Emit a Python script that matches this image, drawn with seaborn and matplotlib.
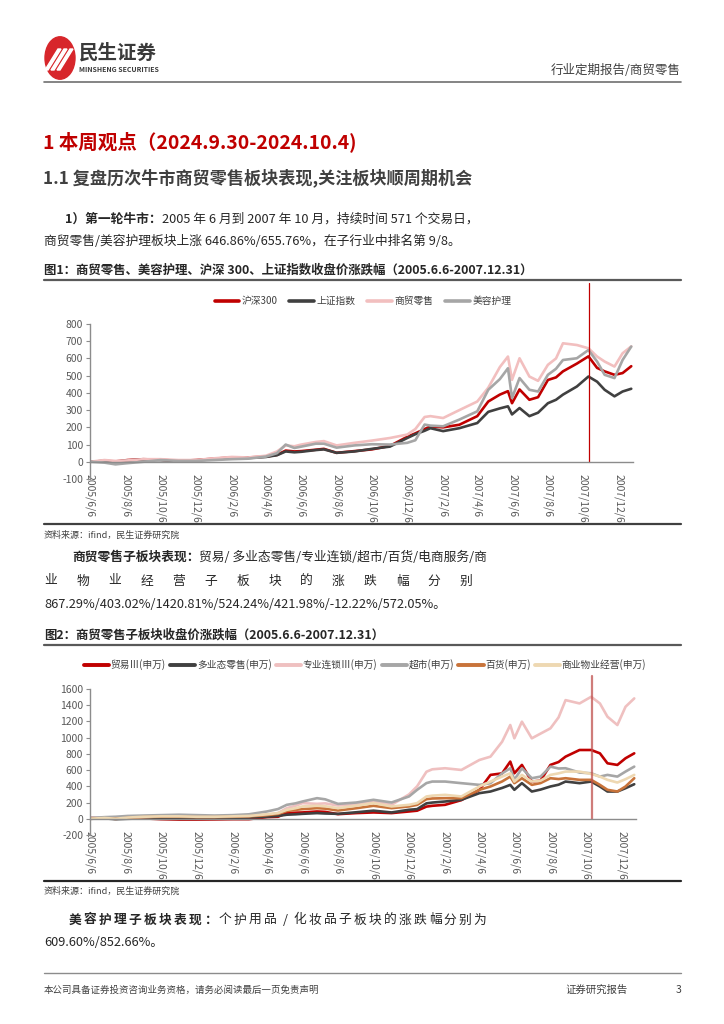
import numpy as np
import pandas as pd
import matplotlib
matplotlib.use('Agg')
import matplotlib.pyplot as plt
from matplotlib.lines import Line2D
from matplotlib.patches import Circle, Polygon
import seaborn as sns

# ---------------- data ----------------
dates = ['2005-06-06', '2005-07-01', '2005-07-20', '2005-08-10', '2005-09-06', '2005-10-06',
         '2005-11-06', '2005-12-06', '2006-01-06', '2006-02-06', '2006-03-06', '2006-04-06',
         '2006-04-25', '2006-05-10', '2006-05-25', '2006-06-06', '2006-07-01', '2006-07-15',
         '2006-08-06', '2006-09-06', '2006-10-06', '2006-11-06', '2006-12-06', '2006-12-20',
         '2007-01-05', '2007-01-15', '2007-02-06', '2007-03-06', '2007-04-06', '2007-04-25',
         '2007-05-15', '2007-05-29', '2007-06-05', '2007-06-18', '2007-07-05', '2007-07-20',
         '2007-08-06', '2007-08-20', '2007-09-01', '2007-09-25', '2007-10-15', '2007-10-30',
         '2007-11-12', '2007-11-29', '2007-12-13', '2007-12-28']

# Figure 1
hs300 = [0, 5, 2, 10, 15, 12, 5, 10, 18, 25, 25, 30, 40, 65, 60, 62, 70, 75, 52, 62, 72, 92,
         145, 165, 190, 205, 200, 215, 265, 350, 390, 410, 340, 420, 360, 375, 475, 490, 525,
         570, 612, 545, 525, 505, 515, 555]
sse = [0, 5, 0, 8, 12, 10, 5, 8, 15, 20, 22, 28, 38, 60, 55, 58, 68, 72, 52, 60, 75, 88, 138,
       160, 180, 195, 178, 195, 225, 290, 310, 322, 275, 312, 265, 285, 340, 360, 390, 437,
       495, 465, 418, 380, 408, 424]
retail = [0, 10, 5, 8, 15, 15, 10, 10, 20, 28, 25, 35, 60, 95, 90, 100, 115, 120, 95, 110, 123,
          138, 158, 190, 260, 265, 254, 300, 350, 430, 550, 611, 476, 601, 495, 470, 563, 600,
          688, 678, 659, 611, 582, 553, 630, 670]
beauty = [0, -5, -15, -8, 0, 10, 5, 5, 10, 15, 18, 30, 50, 100, 80, 88, 105, 105, 82, 95, 102,
          100, 110, 125, 216, 210, 206, 245, 293, 418, 480, 543, 370, 486, 418, 408, 505, 540,
          591, 601, 649, 582, 505, 486, 591, 669]
series1 = ['沪深300', '上证指数', '商贸零售', '美容护理']
colors1 = ['#C00000', '#404040', '#F2BFBF', '#A6A6A6']

# Figure 2
trade = [10, 5, 0, 5, 5, -5, -10, -10, -8, -5, -5, 20, 25, 70, 75, 78, 90, 85, 57, 70, 78, 70,
         90, 100, 150, 160, 172, 230, 357, 541, 560, 705, 561, 664, 459, 470, 664, 700, 766,
         848, 848, 807, 684, 664, 746, 807]
multi = [0, 5, -5, 0, 5, 10, 10, 5, 5, 10, 15, 25, 35, 50, 55, 61, 70, 65, 61, 80, 100, 78, 111,
         119, 190, 200, 213, 234, 316, 336, 380, 418, 357, 439, 336, 360, 398, 420, 459, 439,
         459, 398, 336, 336, 377, 426]
chain = [0, 10, 0, 10, 20, 30, 30, 25, 25, 30, 35, 50, 70, 131, 160, 193, 184, 190, 164, 180,
         213, 172, 300, 400, 580, 610, 623, 602, 725, 766, 950, 1156, 992, 1197, 992, 1050,
         1115, 1250, 1463, 1422, 1504, 1422, 1258, 1156, 1381, 1484]
market = [10, 20, 25, 35, 40, 45, 50, 45, 40, 45, 55, 90, 120, 172, 190, 213, 254, 240, 184,
          200, 234, 201, 275, 357, 440, 459, 459, 439, 418, 439, 560, 623, 480, 623, 500, 520,
          643, 620, 623, 570, 561, 520, 541, 520, 582, 643]
dept = [0, 5, 0, 10, 20, 25, 25, 20, 20, 25, 30, 45, 60, 95, 110, 119, 131, 125, 102, 130, 160,
        131, 152, 172, 242, 250, 254, 254, 357, 398, 460, 520, 439, 500, 418, 440, 500, 490,
        500, 480, 480, 418, 357, 336, 398, 500]
prop = [0, 10, 0, 15, 25, 30, 30, 25, 25, 30, 35, 55, 70, 110, 130, 152, 160, 155, 131, 160,
        193, 152, 172, 193, 275, 285, 295, 275, 398, 459, 520, 561, 459, 541, 459, 470, 541,
        560, 582, 582, 553, 520, 480, 447, 488, 541]
series2 = ['贸易Ⅲ(申万)', '多业态零售(申万)', '专业连锁Ⅲ(申万)', '超市(申万)', '百货(申万)',
           '商业物业经营(申万)']
colors2 = ['#C00000', '#404040', '#EFC0C0', '#A6A6A6', '#C8733A', '#EED8B2']

xtick_labels = ['2005/6/6', '2005/8/6', '2005/10/6', '2005/12/6', '2006/2/6', '2006/4/6',
                '2006/6/6', '2006/8/6', '2006/10/6', '2006/12/6', '2007/2/6', '2007/4/6',
                '2007/6/6', '2007/8/6', '2007/10/6', '2007/12/6']
yticks1 = [-100, 0, 100, 200, 300, 400, 500, 600, 700, 800]
yticks2 = [-200, 0, 200, 400, 600, 800, 1000, 1200, 1400, 1600]
peak_date = '2007-10-16'
x_start, x_end = '2005-06-06', '2007-12-31'

# ---------------- setup ----------------
sns.set_theme(style='white')
FAM = ['Noto Sans CJK SC', 'DejaVu Sans']
plt.rcParams['font.family'] = FAM
plt.rcParams['axes.unicode_minus'] = False

W, H = 724, 1024
fig = plt.figure(figsize=(W / 100, H / 100), dpi=100)


def fx(x):
    return x / W


def fy(y):
    return 1 - y / H


def rect(l, t, r, b):
    return [fx(l), fy(b), (r - l) / W, (b - t) / H]


def hline(y, x0, x1, lw=1.0, color='#595959'):
    fig.add_artist(Line2D([fx(x0), fx(x1)], [fy(y), fy(y)], transform=fig.transFigure,
                          lw=lw, color=color))


def txt(x, y, s, size=9, weight='normal', color='#262626', ha='left', **kw):
    return fig.text(fx(x), fy(y), s, fontsize=size, fontweight=weight, color=color,
                    ha=ha, va='center', family=FAM, **kw)


renderer = fig.canvas.get_renderer()


def mixed(x, y, bold, regular, size=9.2, color='#262626'):
    t = txt(x, y, bold, size=size, weight='bold', color=color)
    bb = t.get_window_extent(renderer=renderer)
    txt(bb.x1, y, regular, size=size, color=color)


def spaced(x0, x1, y, s, size=9.2, weight='normal', color='#262626', bold_n=0):
    n = len(s)
    for i, c in enumerate(s):
        xc = x0 + (x1 - x0) * i / (n - 1)
        txt(xc, y, c, size=size, weight='bold' if i < bold_n else weight, color=color,
            ha='center')


def make_df(cols, names):
    d = pd.DataFrame({n: v for n, v in zip(names, cols)})
    d['date'] = pd.to_datetime(dates)
    return d.melt(id_vars='date', var_name='series', value_name='value')


def style_axes(ax, yticks, ymin, ymax):
    ax.set_xlim(pd.Timestamp(x_start), pd.Timestamp(x_end))
    ax.set_ylim(ymin, ymax)
    ax.set_yticks(yticks)
    ax.set_yticklabels([str(v) for v in yticks])
    xt = [pd.Timestamp('-'.join(l.split('/'))) for l in xtick_labels]
    ax.set_xticks(xt)
    ax.set_xticklabels(xtick_labels)
    ax.spines['top'].set_visible(False)
    ax.spines['right'].set_visible(False)
    ax.spines['bottom'].set_position(('data', 0))
    for sp in ['left', 'bottom']:
        ax.spines[sp].set_color('#8C8C8C')
        ax.spines[sp].set_linewidth(1.0)
    ax.tick_params(axis='y', left=True, length=3, width=0.8, color='#8C8C8C',
                   labelsize=7.5, labelcolor='#595959', pad=2)
    ax.tick_params(axis='x', bottom=False, labelsize=7.5, labelcolor='#595959', pad=3,
                   labelrotation=270)
    ax.set_xlabel('')
    ax.set_ylabel('')
    ax.grid(False)
    ax.patch.set_alpha(0)


# ---------------- header ----------------
fig.add_artist(Circle((fx(60), fy(58)), 15 / W, transform=fig.transFigure,
                      color='#D7262B', zorder=3))
for dx in (-7, -1, 5):
    fig.add_artist(Polygon([[fx(52 + dx), fy(70)], [fx(55 + dx), fy(70)],
                            [fx(68 + dx), fy(49)], [fx(65 + dx), fy(49)]],
                           closed=True, transform=fig.transFigure, color='white', zorder=4))
txt(79, 53, '民生证券', size=14, weight='bold', color='#3A3A3A')
txt(79, 70, 'MINSHENG SECURITIES', size=5, weight='bold', color='#3A3A3A')
txt(681, 71, '行业定期报告/商贸零售', size=9, color='#404040', ha='right')
hline(82, 44, 681, lw=1.2, color='#707070')

# ---------------- text blocks ----------------
txt(43, 142, '1 本周观点（2024.9.30-2024.10.4)', size=14, weight='bold', color='#C00000')
txt(43, 178, '1.1 复盘历次牛市商贸零售板块表现,关注板块顺周期机会', size=12.3, weight='bold',
    color='#404040')
mixed(65, 219, '1）第一轮牛市：', '2005 年 6 月到 2007 年 10 月，持续时间 571 个交易日，')
txt(44, 241, '商贸零售/美容护理板块上涨 646.86%/655.76%，在子行业中排名第 9/8。', size=9.2)

txt(44, 270, '图1：商贸零售、美容护理、沪深 300、上证指数收盘价涨跌幅（2005.6.6-2007.12.31）',
    size=8.95, weight='bold', color='#262626')
hline(280, 44, 681, lw=1.6, color='#595959')

# ---------------- chart 1 ----------------
ax1 = fig.add_axes(rect(90, 324, 633, 479))
df1 = make_df([hs300, sse, retail, beauty], series1)
sns.lineplot(data=df1, x='date', y='value', hue='series', hue_order=series1,
             palette=dict(zip(series1, colors1)), linewidth=1.9, ax=ax1)
style_axes(ax1, yticks1, -100, 800)
ax1.axvline(pd.Timestamp(peak_date), ymin=(479 - 462) / 155, ymax=(479 - 283) / 155,
            color='#C00000', lw=0.9, clip_on=False)
sns.move_legend(ax1, 'center', bbox_to_anchor=((363 - 90) / 543, (479 - 301) / 155),
                ncol=4, frameon=False, title=None, fontsize=7, handlelength=2.5,
                handletextpad=0.3, columnspacing=1.2)
for h in ax1.get_legend().get_lines():
    h.set_linewidth(2.6)
for t in ax1.get_legend().get_texts():
    t.set_color('#404040')

hline(524, 44, 681, lw=1.6, color='#404040')
txt(44, 535, '资料来源：ifind，民生证券研究院', size=6.5, color='#404040')

mixed(72, 557, '商贸零售子板块表现：', '贸易/ 多业态零售/专业连锁/超市/百货/电商服务/商')
spaced(51, 466, 581, '业物业经营子板块的涨跌幅分别')
txt(44, 605, '867.29%/403.02%/1420.81%/524.24%/421.98%/-12.22%/572.05%。', size=9.2)

txt(44, 635, '图2：商贸零售子板块收盘价涨跌幅（2005.6.6-2007.12.31）', size=8.95, weight='bold',
    color='#262626')
hline(645, 44, 681, lw=1.6, color='#595959')

# ---------------- chart 2 ----------------
ax2 = fig.add_axes(rect(90, 689, 636, 835))
df2 = make_df([trade, multi, chain, market, dept, prop], series2)
sns.lineplot(data=df2, x='date', y='value', hue='series', hue_order=series2,
             palette=dict(zip(series2, colors2)), linewidth=1.9, ax=ax2)
style_axes(ax2, yticks2, -200, 1600)
ax2.axvline(pd.Timestamp(peak_date), ymin=(835 - 819) / 146, ymax=(835 - 676) / 146,
            color='#C0504D', alpha=0.75, lw=1.6, clip_on=False)
sns.move_legend(ax2, 'center', bbox_to_anchor=((365 - 90) / 546, (835 - 665) / 146),
                ncol=6, frameon=False, title=None, fontsize=7.0, handlelength=2.6,
                handletextpad=0.15, columnspacing=0.45)
for h in ax2.get_legend().get_lines():
    h.set_linewidth(2.8)
for t in ax2.get_legend().get_texts():
    t.set_color('#404040')

hline(881, 44, 681, lw=1.6, color='#262626')
txt(44, 891, '资料来源：ifind，民生证券研究院', size=6.5, color='#404040')

spaced(75, 480, 920, '美容护理子板块表现：个护用品/化妆品子板块的涨跌幅分别为', bold_n=10)
txt(44, 942, '609.60%/852.66%。', size=9.2)

hline(973, 44, 681, lw=1.0, color='#8C8C8C')
txt(44, 990, '本公司具备证券投资咨询业务资格，请务必阅读最后一页免责声明', size=6.8,
    color='#404040')
txt(565, 990, '证券研究报告', size=7.5, color='#404040')
txt(681, 990, '3', size=7.5, color='#404040', ha='right')

fig.savefig('out.png', dpi=100)
